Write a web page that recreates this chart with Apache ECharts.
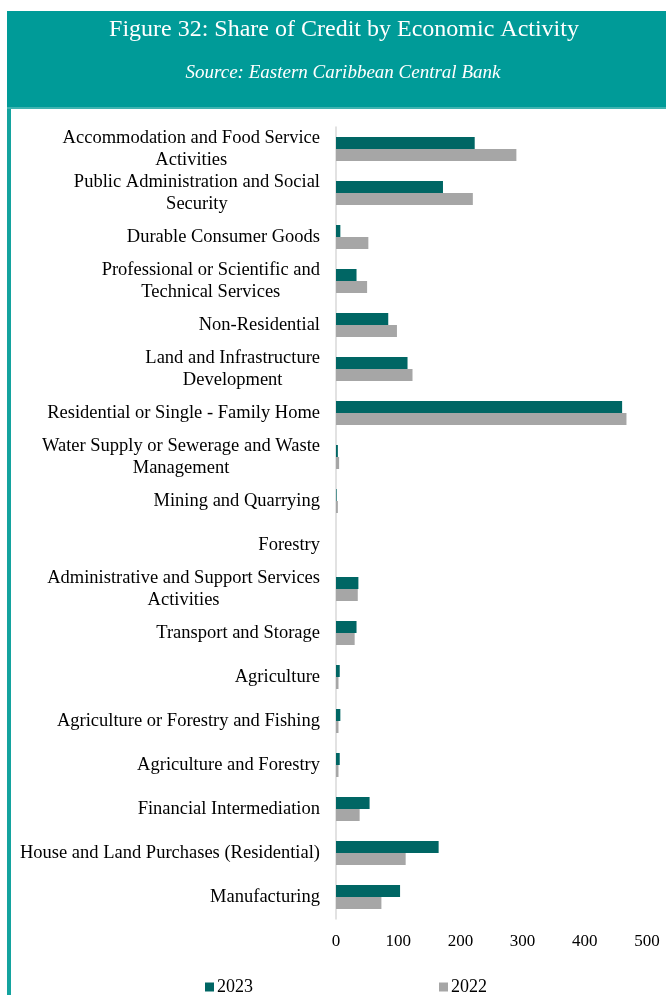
<!DOCTYPE html>
<html>
<head>
<meta charset="utf-8">
<script src="https://cdn.jsdelivr.net/npm/echarts@6/dist/echarts.min.js"></script>
<style>
  html, body { margin: 0; padding: 0; background: #fff; }
  #chart { width: 666px; height: 995px; }
</style>
</head>
<body>
<div id="chart"></div>
<script>
var categories = [
  "Accommodation and Food Service\nActivities",
  "Public Administration and Social\nSecurity",
  "Durable Consumer Goods",
  "Professional or Scientific and\nTechnical Services",
  "Non-Residential",
  "Land and Infrastructure\nDevelopment",
  "Residential or Single - Family Home",
  "Water Supply or Sewerage and Waste\nManagement",
  "Mining and Quarrying",
  "Forestry",
  "Administrative and Support Services\nActivities",
  "Transport and Storage",
  "Agriculture",
  "Agriculture or Forestry and Fishing",
  "Agriculture and Forestry",
  "Financial Intermediation",
  "House and Land Purchases (Residential)",
  "Manufacturing"
];
var values2023 = [223, 172, 7, 33, 84, 115, 460, 3, 1, 0, 36, 33, 6, 7, 6, 54, 165, 103];
var values2022 = [290, 220, 52, 50, 98, 123, 467, 5, 3, 0, 35, 30, 4, 4, 4, 38, 112, 73];
var xTicks = [0, 100, 200, 300, 400, 500];

var serif = "'Liberation Serif', 'DejaVu Serif', serif";
var teal = "#009b98";

var myChart = echarts.init(document.getElementById("chart"));
myChart.setOption({
  backgroundColor: "#fff",
  animation: false,
  graphic: [
    {
      type: "rect",
      shape: { x: 7, y: 11, width: 670, height: 98 },
      style: { fill: teal },
      z: -1
    },
    {
      type: "rect",
      shape: { x: 7, y: 107, width: 670, height: 2 },
      style: { fill: "#3fb3b0" },
      z: -1
    },
    {
      // left frame line
      type: "rect",
      shape: { x: 7, y: 109, width: 4, height: 890 },
      style: { fill: "#14a39f" },
      z: -1
    }
  ],
  title: [
    {
      text: "Figure 32: Share of Credit by Economic Activity",
      left: 339,
      textAlign: "center",
      top: 13,
      textStyle: { color: "#fff", fontFamily: serif, fontSize: 24, fontWeight: "normal" }
    },
    {
      text: "Source: Eastern Caribbean Central Bank",
      left: 338,
      textAlign: "center",
      top: 58,
      textStyle: { color: "#fff", fontFamily: serif, fontSize: 19, fontStyle: "italic", fontWeight: "normal" }
    }
  ],
  legend: {
    data: ["2023", "2022"],
    left: 200,
    top: 973,
    itemWidth: 9,
    itemHeight: 9,
    itemGap: 186,
    icon: "rect",
    textStyle: { fontFamily: serif, fontSize: 18, color: "#000", padding: [0, 0, 0, -2] }
  },
  grid: {
    left: 336,
    right: 19,
    top: 127,
    bottom: 76,
    containLabel: false
  },
  xAxis: {
    type: "value",
    min: 0,
    max: 500,
    interval: 100,
    axisLine: { show: false },
    axisTick: { show: false },
    splitLine: { show: false },
    axisLabel: {
      margin: 14,
      fontFamily: serif,
      fontSize: 17,
      color: "#000",
      customValues: xTicks
    }
  },
  yAxis: {
    type: "category",
    inverse: true,
    data: categories,
    axisLine: { show: true, lineStyle: { color: "#d9d9d9", width: 1.5 } },
    axisTick: { show: false },
    axisLabel: {
      margin: 16,
      interval: 0,
      align: "right",
      fontFamily: serif,
      fontSize: 18.5,
      color: "#000",
      formatter: function(val) {
        return val.split("\n").map(function(s) {
          return "{c|" + s + "}";
        }).join("\n");
      },
      rich: {
        c: {
          align: "center",
          fontFamily: serif,
          fontSize: 18.5,
          color: "#000",
          lineHeight: 22
        }
      }
    }
  },
  series: [
    {
      name: "2023",
      type: "bar",
      data: values2023,
      barWidth: 12,
      barGap: "0%",
      itemStyle: { color: "#006664" }
    },
    {
      name: "2022",
      type: "bar",
      data: values2022,
      barWidth: 12,
      itemStyle: { color: "#a6a6a6" }
    }
  ]
});
</script>
</body>
</html>
